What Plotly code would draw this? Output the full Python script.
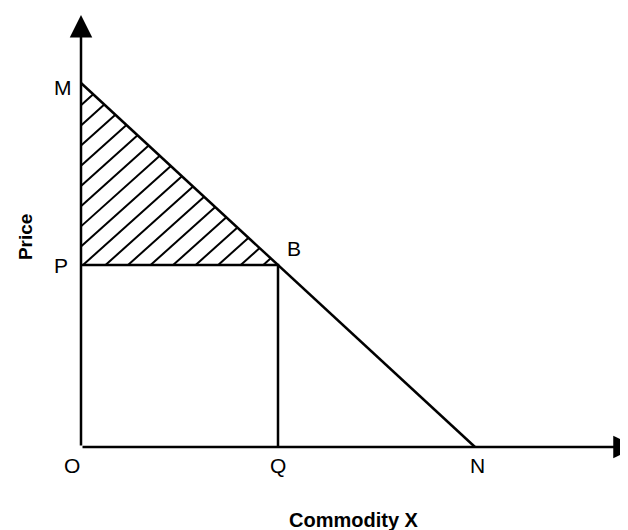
import plotly.graph_objects as go

# Key points of the diagram (data units)
point_names = ["O", "M", "P", "B", "Q", "N"]
point_x = [0, 0, 0, 5, 5, 10]
point_y = [0, 10, 5, 5, 0, 0]

# Axis extents (arrow tips)
x_axis_end = 14.08
y_axis_end = 11.87

# Hatching of the consumer surplus triangle M-P-B
hatch_spacing = 0.572
hatch_slope = 0.97
hatch_offset = 0.05

pts = dict(zip(point_names, zip(point_x, point_y)))
Mx, My = pts["M"]
Px, Py = pts["P"]
Bx, By = pts["B"]
Nx, Ny = pts["N"]
Qx, Qy = pts["Q"]

fig = go.Figure()

# hatch lines
hx, hy = [], []
hyp_slope = (By - My) / (Bx - Mx)
for k in range(-20, 20):
    c = hatch_offset + k * hatch_spacing
    if c >= Bx:
        continue
    if c >= 0:
        sx, sy = c, Py
    else:
        sx, sy = 0, Py - hatch_slope * c
        if sy >= My:
            continue
    ex = (My - Py + hatch_slope * c) / (hatch_slope - hyp_slope)
    ey = My + hyp_slope * ex
    hx += [sx, ex, None]
    hy += [sy, ey, None]
fig.add_trace(go.Scatter(x=hx, y=hy, mode="lines",
                         line=dict(color="black", width=2), hoverinfo="skip"))

# demand line M-N
fig.add_trace(go.Scatter(x=[Mx, Nx], y=[My, Ny], mode="lines",
                         line=dict(color="black", width=2.5)))
# P-B horizontal and B-Q vertical
fig.add_trace(go.Scatter(x=[Px, Bx, Qx], y=[Py, By, Qy], mode="lines",
                         line=dict(color="black", width=2.5)))

font_lbl = dict(family="Liberation Sans, Arial, sans-serif", size=21, color="black")

# Axes with arrows
for (tx, ty) in [(0, y_axis_end), (x_axis_end, 0)]:
    fig.add_annotation(x=tx, y=ty, ax=0, ay=0, xref="x", yref="y",
                       axref="x", ayref="y", showarrow=True, arrowhead=2,
                       arrowwidth=2.5, arrowsize=1.8, arrowcolor="black", text="")

# Point labels
shifts = {"O": (-9, -18), "M": (-18, -4), "P": (-20, 0), "B": (16, 17),
          "Q": (0, -18), "N": (2, -18)}
for name, x, y in zip(point_names, point_x, point_y):
    dx, dy = shifts[name]
    fig.add_annotation(x=x, y=y, text=name, showarrow=False, font=font_lbl,
                       xshift=dx, yshift=dy, xanchor="center", yanchor="middle")

fig.add_annotation(x=-0.0609, y=0.503, xref="paper", yref="paper",
                   text="<b>Price</b>", textangle=-90, showarrow=False,
                   font=dict(family="Liberation Sans, Arial, sans-serif", size=19, color="black"),
                   xanchor="center", yanchor="middle")
fig.add_annotation(x=0.5104, y=-0.116, xref="paper", yref="paper",
                   text="<b>Commodity X</b>", showarrow=False,
                   font=dict(family="Liberation Sans, Arial, sans-serif", size=20, color="black"),
                   xanchor="center", yanchor="middle")

fig.update_layout(
    width=628, height=530,
    margin=dict(l=52, r=0, t=2, b=71),
    paper_bgcolor="white", plot_bgcolor="white",
    showlegend=False,
    xaxis=dict(range=[-21 / 39.4, (576 - 21) / 39.4], visible=False, fixedrange=True),
    yaxis=dict(range=[-20 / 36.4, 437 / 36.4], visible=False, fixedrange=True),
)

fig.write_html("out.html")
